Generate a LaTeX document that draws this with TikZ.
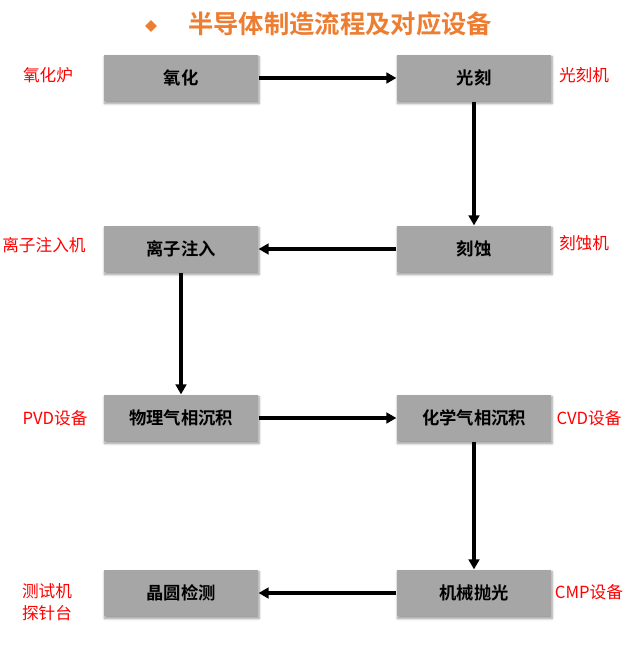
\documentclass[tikz,border=0pt]{standalone}
\usepackage{fontspec}
\newfontfamily\cjk{Noto Sans CJK SC}
\newfontfamily\cjkbold{Noto Sans CJK SC Bold}
\usetikzlibrary{shapes.geometric,arrows.meta,shadows.blur}
\definecolor{procgray}{HTML}{A6A6A6}
\definecolor{titleorange}{HTML}{ED7D31}
\definecolor{toolred}{HTML}{FF0000}

\tikzset{
  procbox/.style={fill=procgray, minimum width=116pt, minimum height=35pt, inner sep=0pt,
    font=\cjkbold\fontsize{13}{15}\selectfont,
    blur shadow={shadow xshift=0.6pt, shadow yshift=-1.6pt, shadow blur steps=6, shadow opacity=40}},
  toollabel/.style={text=toolred, align=center, font=\cjk\fontsize{12.5}{16}\selectfont},
  flow/.style={line width=2.4pt, -{Triangle[length=7.5pt,width=8pt]}}
}

\begin{document}
\begin{tikzpicture}[x=0.75pt, y=-0.75pt]
\useasboundingbox (0,0) rectangle (640,645);
% title
\node[diamond, fill=titleorange, inner sep=0pt, minimum size=9pt] (bullet) at (151,26) {};
\node[text=titleorange, font=\cjkbold\fontsize{19}{21}\selectfont] (title) at (340,24) {半导体制造流程及对应设备};
% process steps
\node[procbox] (oxid) at (181,78) {氧化};
\node[procbox] (litho) at (474,78) {光刻};
\node[procbox] (etch) at (474,249) {刻蚀};
\node[procbox] (implant) at (181,249) {离子注入};
\node[procbox] (pvd) at (181,418) {物理气相沉积};
\node[procbox] (cvd) at (474,418) {化学气相沉积};
\node[procbox] (cmp) at (474,593) {机械抛光};
\node[procbox] (inspect) at (181,593) {晶圆检测};
% equipment
\node[toollabel] (oxidtool) at (48,75) {氧化炉};
\node[toollabel] (lithotool) at (584,75) {光刻机};
\node[toollabel] (implanttool) at (44,245) {离子注入机};
\node[toollabel] (etchtool) at (584,243) {刻蚀机};
\node[toollabel] (pvdtool) at (55,418) {PVD设备};
\node[toollabel] (cvdtool) at (589,418) {CVD设备};
\node[toollabel] (cmptool) at (589,592) {CMP设备};
\node[toollabel] (testtool) at (47,602) {测试机\\探针台};
% flow
\draw[flow] (oxid) -- (litho);
\draw[flow] (litho) -- (etch);
\draw[flow] (etch) -- (implant);
\draw[flow] (implant) -- (pvd);
\draw[flow] (pvd) -- (cvd);
\draw[flow] (cvd) -- (cmp);
\draw[flow] (cmp) -- (inspect);
\end{tikzpicture}
\end{document}
